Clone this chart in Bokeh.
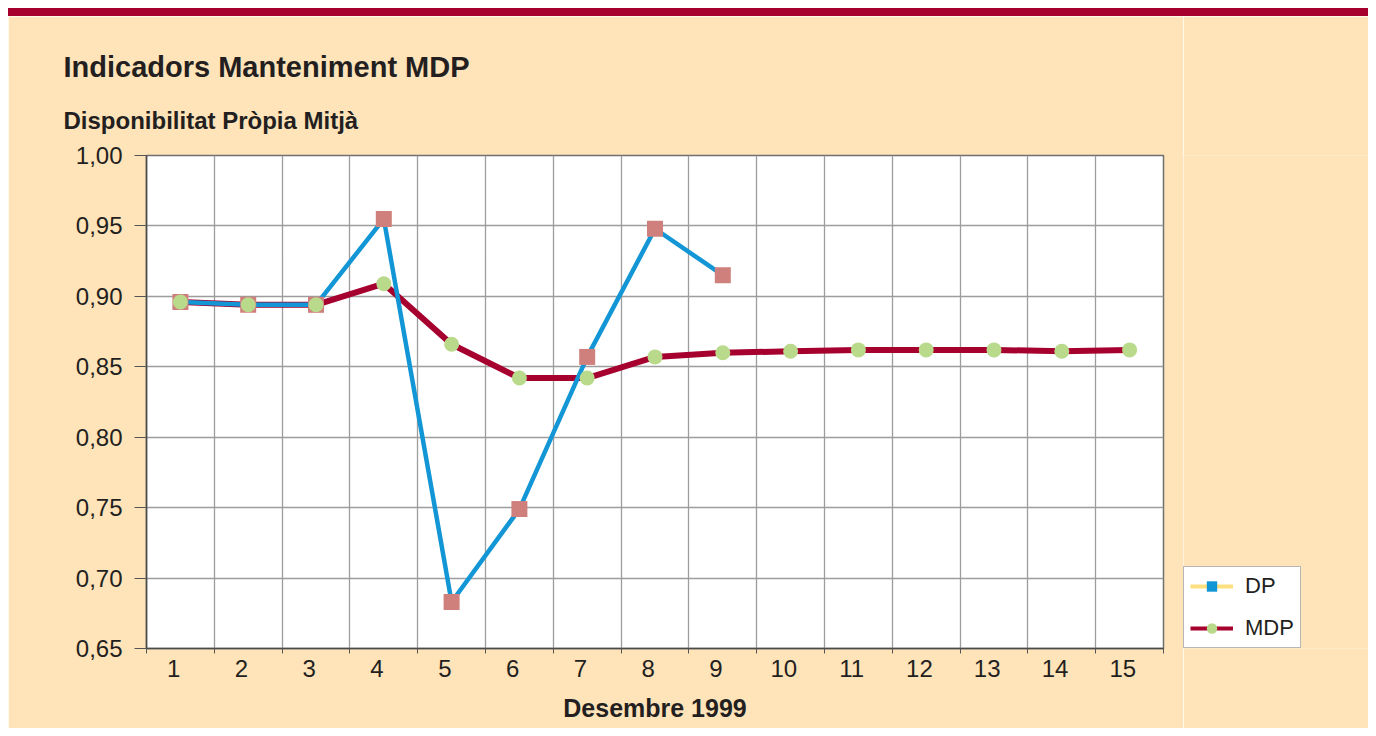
from bokeh.plotting import figure
from bokeh.models import Range1d, FixedTicker, Legend, LegendItem, Title, Div
from bokeh.layouts import column, row
from bokeh.embed import file_html
from bokeh.resources import INLINE

# ---- data ----
days = list(range(1, 16))
day_labels = [str(d) for d in days]
dp_days = days[:9]
dp_values = [0.896, 0.894, 0.894, 0.955, 0.683, 0.749, 0.857, 0.948, 0.915]
mdp_values = [0.896, 0.894, 0.894, 0.909, 0.866, 0.842, 0.842, 0.857, 0.860,
              0.861, 0.862, 0.862, 0.862, 0.861, 0.862]
y_ticks = [0.65, 0.70, 0.75, 0.80, 0.85, 0.90, 0.95, 1.00]
y_tick_labels = ["0,65", "0,70", "0,75", "0,80", "0,85", "0,90", "0,95", "1,00"]
series_names = ["DP", "MDP"]
nan = float("nan")

PEACH = "#FFE3B9"
RED = "#A6002F"
BLUE = "#1396D5"
PINK = "#D0807C"
GREEN = "#B9D98B"
YELLOW = "#FDE07F"
TXT = "#231F20"
FONT = "Liberation Sans"

W = 1360
H = 712
PW = 1175
bar = Div(width=W, height=8, margin=0, styles={"background-color": RED})

p = figure(width=PW, height=H, x_range=Range1d(0.5, 15.5), y_range=Range1d(0.65, 1.0),
           output_backend="svg", toolbar_location=None,
           min_border_left=138, min_border_right=20, min_border_top=139, min_border_bottom=80,
           background_fill_color="white", border_fill_color=PEACH,
           outline_line_color="#6f6f6f", outline_line_width=1.5)

# titles
sub = Title(text="Disponibilitat Pròpia Mitjà", align="left", offset=-83, standoff=44,
            text_font=FONT, text_font_size="24px", text_font_style="bold", text_color=TXT)
main = Title(text="Indicadors Manteniment MDP", align="left", offset=-83, standoff=0,
             text_font=FONT, text_font_size="29px", text_font_style="bold", text_color=TXT)
p.add_layout(sub, "above")
p.add_layout(main, "above")

# x axis
label_pos = [round(d - 0.1, 2) for d in days]
bounds = [d + 0.5 for d in range(0, 16)]
p.xaxis.ticker = FixedTicker(ticks=label_pos, minor_ticks=bounds)
p.xaxis.major_label_overrides = {t: l for t, l in zip(label_pos, day_labels)}
p.xaxis.major_tick_line_color = None
p.xaxis.minor_tick_in = 0
p.xaxis.minor_tick_out = 5
p.xaxis.minor_tick_line_color = "#555555"
p.xaxis.axis_label = "Desembre 1999"
p.xaxis.axis_label_text_font = FONT
p.xaxis.axis_label_text_font_size = "25px"
p.xaxis.axis_label_text_font_style = "bold"
p.xaxis.axis_label_text_color = TXT
p.xaxis.axis_label_standoff = 14

# y axis
p.yaxis.ticker = FixedTicker(ticks=y_ticks, minor_ticks=[])
p.yaxis.major_label_overrides = {t: l for t, l in zip(y_ticks, y_tick_labels)}
p.yaxis.major_tick_in = 0
p.yaxis.major_tick_out = 12
p.yaxis.major_tick_line_color = "#555555"
p.yaxis.major_label_standoff = 12

for ax in (p.xaxis, p.yaxis):
    ax.major_label_text_font = FONT
    ax.major_label_text_font_size = "24px"
    ax.major_label_text_color = TXT
    ax.axis_line_color = "#4a4a4a"
    ax.axis_line_width = 1.5

p.xgrid.ticker = FixedTicker(ticks=[d + 0.5 for d in range(1, 15)])
p.ygrid.ticker = FixedTicker(ticks=y_ticks)
for g in (p.xgrid, p.ygrid):
    g.grid_line_color = "#9d9d9d"
    g.grid_line_width = 1.3

# series
p.line(days, mdp_values, line_color=RED, line_width=6)
p.line(dp_days, dp_values, line_color=BLUE, line_width=4.5)
p.scatter(dp_days, dp_values, marker="square", size=16, fill_color=PINK, line_color=None)
p.scatter(days, mdp_values, marker="circle", size=15, fill_color=GREEN, line_color=None)

# legend panel (separate figure, to the right of the plot)
q = figure(width=W - PW, height=H, x_range=Range1d(0, 1), y_range=Range1d(0, 1),
           x_axis_type=None, y_axis_type=None, output_backend="svg", toolbar_location=None,
           min_border_left=0, min_border_right=0, min_border_top=139, min_border_bottom=80,
           background_fill_color=PEACH, border_fill_color=PEACH, outline_line_color=None)

lg_dp_line = q.line([nan], [nan], line_color=YELLOW, line_width=4)
lg_dp_mark = q.scatter([nan], [nan], marker="square", size=20, fill_color=BLUE, line_color=None)
lg_mdp_line = q.line([nan], [nan], line_color=RED, line_width=4)
lg_mdp_mark = q.scatter([nan], [nan], marker="circle", size=20, fill_color=GREEN, line_color=None)

legend = Legend(items=[LegendItem(label=series_names[0], renderers=[lg_dp_line, lg_dp_mark]),
                       LegendItem(label=series_names[1], renderers=[lg_mdp_line, lg_mdp_mark])],
                location=(0, 0), label_text_font=FONT, label_text_font_size="22px",
                label_text_color=TXT, glyph_width=43, glyph_height=26, label_height=26,
                label_standoff=12, spacing=16, padding=6, margin=0,
                border_line_color="#6f6f6f", border_line_width=1.5,
                background_fill_color="white", background_fill_alpha=1)
q.add_layout(legend, "center")

layout = column(bar, row(p, q, spacing=0), spacing=0, margin=(8, 0, 0, 8))
open("out.html", "w").write(file_html(layout, INLINE))
